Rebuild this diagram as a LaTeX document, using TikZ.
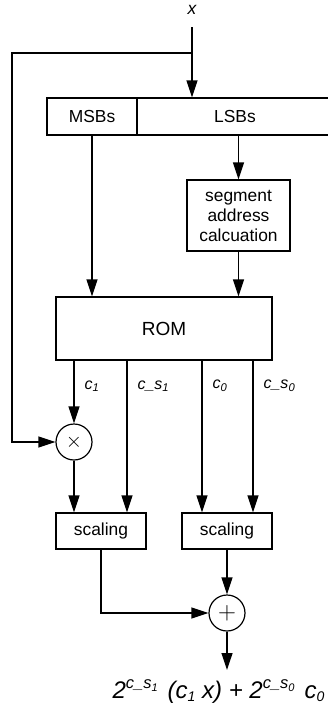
\documentclass[tikz,border=0pt]{standalone}
\usepackage{fontspec}
\setmainfont{Liberation Sans}
\usetikzlibrary{arrows.meta,positioning}
\newcommand{\supx}[1]{\raisebox{10pt}{\fontsize{16.5}{18}\selectfont #1}}
\newcommand{\lowx}[2]{\raisebox{-3pt}{\fontsize{#1}{#1}\selectfont #2}}

\begin{document}
\begin{tikzpicture}[x=1pt, y=-1pt, line width=1.2pt,
    >={Triangle[length=17pt, width=11pt]},
    font=\fontsize{17.4}{20}\selectfont,
    block/.style={draw, inner sep=0pt, align=center},
    junction/.style={draw, circle, minimum size=36pt, inner sep=0pt},
    taplabel/.style={anchor=west, inner sep=0pt, xshift=10pt, font=\fontsize{16}{18}\selectfont\itshape}]
    \useasboundingbox (0,0) rectangle (327,710);

    % Input word x, split towards the multiplier
    \node[font=\fontsize{17.4}{20}\selectfont\itshape, outer ysep=9.5pt] (xin) at (192,10) {x};
    \coordinate (split) at (192,53);
    \coordinate (loop) at (12,53);

    % Input register: MSBs | LSBs
    \node[block, minimum width=90pt, minimum height=37pt] (msb) at (92,116.5) {MSBs};
    \node[block, minimum width=196pt, minimum height=37pt] (lsb) at (235,116.5) {LSBs};

    % Segment address calculation
    \node[block, minimum width=103pt, minimum height=71pt] (seg) at (238.5,215.5)
      {segment\\address\\calcuation};

    % ROM table
    \node[block, minimum width=216pt, minimum height=63pt, font=\fontsize{19}{22}\selectfont]
      (rom) at (164,328.5) {ROM};
    \foreach \name/\xx in {tapa/74, tapb/127, tapc/202, tapd/253} {
      \coordinate (\name) at (\xx,360);
    }
    \node[taplabel] (lbla) at ([yshift=-26pt]tapa) {c\textsubscript{1}};
    \node[taplabel] (lblb) at ([yshift=-26pt]tapb) {c\_s\textsubscript{1}};
    \node[taplabel] (lblc) at ([yshift=-26pt]tapc) {c\textsubscript{0}};
    \node[taplabel] (lbld) at ([yshift=-26pt]tapd) {c\_s\textsubscript{0}};

    % Multiplier, scaling and adder
    \node[junction, font=\fontsize{20}{22}\selectfont] (mul) at (74,442) {$\times$};
    \node[block, minimum width=90pt, minimum height=36pt] (scala) at (101,531) {scaling};
    \node[block, minimum width=90pt, minimum height=36pt] (scalb) at (227,531) {scaling};
    \node[junction, font=\fontsize{24}{26}\selectfont] (add) at (227,613) {$+$};
    \coordinate (out) at (227,670);
    \node[anchor=east, inner sep=0pt, font=\fontsize{24}{26}\selectfont\itshape] (res) at (325,692)
      {2\supx{c\_s\lowx{11}{1}}\hspace{10pt}(c\lowx{14}{1} x) + 2\supx{c\_s\lowx{11}{0}}\hspace{10pt}c\lowx{14}{0}};

    % Connectors
    \draw[->] (xin) -- (xin |- lsb.north);
    \draw[->] (split) -- (loop) |- (mul);
    \draw[->] (msb) -- (msb |- rom.north);
    \draw[->] (lsb.south -| seg) -- (seg);
    \draw[->] (seg) -- (seg |- rom.north);
    \draw[->] (tapa) -- (mul);
    \draw[->] (tapb) -- (tapb |- scala.north);
    \draw[->] (tapc) -- (tapc |- scalb.north);
    \draw[->] (tapd) -- (tapd |- scalb.north);
    \draw[->] (mul) -- (mul |- scala.north);
    \draw[->] (scala) |- (add);
    \draw[->] (scalb) -- (add);
    \draw[->] (add) -- (out);
\end{tikzpicture}
\end{document}
